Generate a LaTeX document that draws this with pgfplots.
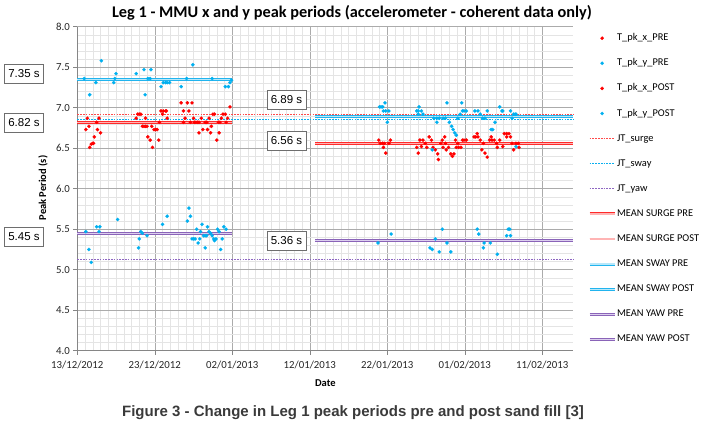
\documentclass[border=0pt]{standalone}
\usepackage{fontspec}
\setmainfont{Carlito}
\newfontfamily\arialfont{Liberation Sans}
\usepackage{pgfplots}
\pgfplotsset{compat=1.18}
\usepackage{pgfplotstable}

\definecolor{cred}{HTML}{FF0000}
\definecolor{cblue}{HTML}{00B0F0}
\definecolor{jtred}{HTML}{FF4A4A}
\definecolor{jtblue}{HTML}{0AAFEF}
\definecolor{jtpurple}{HTML}{8E66C2}
\definecolor{mred}{HTML}{FF2A2A}
\definecolor{mredin}{HTML}{FFB4B4}
\definecolor{mblue}{HTML}{22B4EE}
\definecolor{mbluein}{HTML}{B8E8FA}
\definecolor{mpurple}{HTML}{8A64B8}
\definecolor{mpurplein}{HTML}{DCCFEE}
\definecolor{majgrid}{HTML}{ABABAB}
\definecolor{mingrid}{HTML}{E4E4E4}
\definecolor{axgray}{HTML}{868686}
\definecolor{capgray}{HTML}{3A3A3A}
\definecolor{boxgray}{HTML}{6E6E6E}

% x = days since 13/12/2012
\pgfplotstableread{
x y
1.1 6.73
1.3 6.87
1.5 6.77
1.6 6.51
1.8 6.55
2.0 6.56
2.1 6.56
2.2 6.64
2.5 6.82
2.6 6.73
2.8 6.87
3.0 6.69
7.6 6.87
7.8 6.92
8.0 6.92
8.2 6.92
8.4 6.77
8.6 6.77
8.8 6.87
8.8 6.77
9.0 6.77
9.1 6.64
9.4 6.60
9.6 6.77
9.7 6.51
9.9 6.73
10.1 6.73
10.3 6.73
10.5 6.60
10.6 6.82
10.8 6.96
11.0 6.92
11.1 6.96
11.4 6.96
11.5 6.96
11.6 6.87
13.4 7.06
13.7 6.96
13.7 6.82
13.9 6.87
14.2 7.06
14.4 6.96
14.6 6.82
14.8 7.06
15.0 6.87
15.1 6.82
15.3 6.82
15.5 6.82
15.7 6.82
15.7 6.69
16.0 6.87
16.2 6.73
16.5 6.82
16.7 6.82
16.8 6.73
17.0 6.87
17.2 6.69
17.3 6.77
17.5 6.92
17.7 6.92
18.0 6.60
18.2 6.82
18.3 6.69
18.4 6.82
18.6 6.87
18.8 6.92
19.1 6.92
19.2 6.82
19.4 6.87
19.7 7.01
}\xpre

\pgfplotstableread{
x y
0.9 7.36
1.6 7.16
2.4 7.31
3.1 7.58
4.7 7.31
4.85 7.36
5.0 7.42
7.6 7.42
8.6 7.47
8.75 7.16
9.1 7.36
9.4 7.36
9.5 7.47
10.8 7.26
11.1 7.31
11.4 7.31
11.6 7.31
11.9 7.31
13.4 7.26
14.1 7.36
14.9 7.53
17.4 7.36
19.1 7.26
19.5 7.26
19.7 7.31
19.9 7.34
1.1 5.47
1.5 5.25
1.8 5.09
2.5 5.53
2.9 5.53
2.8 5.47
5.2 5.62
7.9 5.27
8.0 5.38
8.2 5.47
8.4 5.45
9.0 5.42
11.0 5.56
11.6 5.66
14.2 5.60
14.4 5.76
14.6 5.66
14.8 5.38
15.0 5.38
15.2 5.38
15.4 5.50
15.6 5.33
15.8 5.38
15.9 5.47
16.1 5.56
16.3 5.42
16.5 5.42
16.7 5.42
16.5 5.27
16.8 5.53
17.0 5.47
17.2 5.45
17.4 5.42
17.6 5.38
17.7 5.36
17.9 5.38
18.1 5.50
18.3 5.47
18.5 5.25
18.7 5.38
18.9 5.53
19.2 5.50
}\ypre

\pgfplotstableread{
x y
38.9 6.60
39.1 6.56
39.4 6.56
39.6 6.56
39.5 6.51
39.8 6.44
40.2 6.56
40.4 6.60
43.8 6.51
44.0 6.44
44.2 6.60
44.6 6.60
44.4 6.52
44.9 6.56
45.1 6.51
45.4 6.64
45.7 6.60
45.9 6.51
46.2 6.48
46.5 6.43
46.6 6.36
46.9 6.56
47.1 6.60
47.2 6.51
47.5 6.56
47.4 6.64
47.6 6.48
47.9 6.51
48.2 6.43
48.4 6.40
48.6 6.43
48.8 6.60
48.9 6.51
49.2 6.51
49.5 6.51
49.1 6.56
49.7 6.60
49.9 6.60
50.2 6.60
51.2 6.64
51.4 6.64
51.7 6.64
51.6 6.68
52.0 6.60
52.2 6.48
52.4 6.56
52.6 6.44
52.9 6.39
53.2 6.60
53.5 6.60
53.8 6.60
53.4 6.64
54.1 6.56
54.2 6.51
54.5 6.60
54.9 6.52
55.1 6.68
55.4 6.68
55.7 6.68
55.4 6.64
55.9 6.64
56.1 6.56
56.3 6.48
56.6 6.56
56.9 6.56
57.0 6.51
}\xpost

\pgfplotstableread{
x y
39.0 7.01
39.2 7.01
39.4 7.01
39.7 7.06
39.5 6.96
39.8 6.96
40.2 6.96
40.0 6.82
44.1 7.01
43.8 6.96
44.0 6.96
44.4 6.96
44.0 6.92
44.6 6.92
46.0 6.87
46.4 6.87
46.7 6.87
47.2 6.87
47.5 6.87
46.4 6.82
47.7 7.06
48.0 6.82
48.3 6.77
48.5 6.73
48.7 6.69
48.9 6.66
49.1 6.87
49.4 6.92
49.6 7.06
49.7 6.96
49.9 6.96
50.2 6.96
45.8 6.48
51.3 6.96
51.7 6.96
52.0 6.92
52.3 6.87
52.6 6.87
52.9 6.96
53.9 6.82
54.5 7.01
54.8 6.96
54.9 6.96
55.9 6.96
56.1 6.87
56.3 6.92
56.5 6.92
56.6 6.92
53.4 6.73
53.6 6.73
56.6 6.52
38.8 5.33
40.5 5.44
45.5 5.27
45.8 5.25
46.2 5.38
46.7 5.22
47.1 5.50
47.7 5.33
48.2 5.22
51.6 5.50
51.8 5.44
52.4 5.27
52.5 5.33
53.3 5.33
54.2 5.19
55.4 5.42
55.6 5.50
55.8 5.50
55.9 5.42
}\ypost

\pgfplotsset{
  pts/.style={only marks, color=#1, mark=*, mark size=1.75pt, mark options={draw=#1, fill=#1, line width=0.1pt, solid}},
  jt/.style={color=#1, line width=1pt, dash pattern=on 1.6pt off 1.2pt},
  meanout/.style={draw=#1, line width=2.9pt,
    legend image code/.code={%
      \draw[##1] (0pt,0pt) -- (25pt,0pt);
      \draw[draw=#1in, line width=1.4pt] (0pt,0pt) -- (25pt,0pt);}},
  meanin/.style={draw=#1, line width=1.4pt, forget plot},
}

\begin{document}
\begin{tikzpicture}[x=1pt,y=1pt]
\path[use as bounding box] (0,0) rectangle (702,429);
\begin{axis}[
  at={(77.3pt,78.3pt)}, anchor=south west,
  scale only axis, width=496pt, height=324pt,
  xmin=0, xmax=64, ymin=4, ymax=8,
  axis lines*=left,
  xtick={0,10,...,60},
  xticklabels={13/12/2012,23/12/2012,02/01/2013,12/01/2013,22/01/2013,01/02/2013,11/02/2013},
  ytick={4,4.5,...,8},
  minor x tick num=9, minor y tick num=4,
  grid=both,
  major grid style={draw=majgrid, line width=0.6pt},
  minor grid style={draw=mingrid, line width=0.5pt},
  axis line style={draw=axgray, line width=0.6pt},
  tick align=outside, major tick length=4pt, minor tick length=0pt,
  major tick style={draw=axgray, line width=0.6pt},
  /pgf/number format/fixed, /pgf/number format/fixed zerofill,
  /pgf/number format/precision=1, /pgf/number format/assume math mode=true,
  tick label style={font=\fontsize{10.8}{12}\selectfont, text=black!85},
  xticklabel style={yshift=-3pt},
  legend image code/.code={\draw[mark repeat=2,mark phase=2,#1] plot coordinates {(0pt,0pt) (12.5pt,0pt) (25pt,0pt)};},
  legend style={at={(rel axis cs:1,1)}, anchor=north west, xshift=14.7pt, yshift=-5.8pt,
    draw=none, fill=none, inner sep=0pt, row sep=14.1pt,
    font=\fontsize{10.4}{12}\selectfont,
    nodes={inner sep=1pt, text height=7pt, text depth=2pt}},
  legend cell align=left,
  clip=false,
]
\addplot[pts=cred] table {\xpre};
\addlegendentry{T\_pk\_x\_PRE}
\addplot[pts=cblue] table {\ypre};
\addlegendentry{T\_pk\_y\_PRE}
\addplot[pts=cred] table {\xpost};
\addlegendentry{T\_pk\_x\_POST}
\addplot[pts=cblue] table {\ypost};
\addlegendentry{T\_pk\_y\_POST}
\addplot[jt=jtred] coordinates {(0,6.91) (64,6.91)};
\addlegendentry{JT\_surge}
\addplot[jt=jtblue] coordinates {(0,6.86) (64,6.86)};
\addlegendentry{JT\_sway}
\addplot[jt=jtpurple] coordinates {(0,5.13) (64,5.13)};
\addlegendentry{JT\_yaw}
\addplot[meanout=mred] coordinates {(0,6.82) (20,6.82)};
\addlegendentry{MEAN SURGE PRE}
\addplot[meanin=mredin] coordinates {(0,6.82) (20,6.82)};
\addplot[meanout=mred] coordinates {(30.7,6.56) (64,6.56)};
\addlegendentry{MEAN SURGE POST}
\addplot[meanin=mredin] coordinates {(30.7,6.56) (64,6.56)};
\addplot[meanout=mblue] coordinates {(0,7.35) (20,7.35)};
\addlegendentry{MEAN SWAY PRE}
\addplot[meanin=mbluein] coordinates {(0,7.35) (20,7.35)};
\addplot[meanout=mblue] coordinates {(30.7,6.89) (64,6.89)};
\addlegendentry{MEAN SWAY POST}
\addplot[meanin=mbluein] coordinates {(30.7,6.89) (64,6.89)};
\addplot[meanout=mpurple] coordinates {(0,5.45) (20,5.45)};
\addlegendentry{MEAN YAW PRE}
\addplot[meanin=mpurplein] coordinates {(0,5.45) (20,5.45)};
\addplot[meanout=mpurple] coordinates {(30.7,5.36) (64,5.36)};
\addlegendentry{MEAN YAW POST}
\addplot[meanin=mpurplein] coordinates {(30.7,5.36) (64,5.36)};
\end{axis}

\node[font=\bfseries\fontsize{16.3}{18}\selectfont] at (352,416) {Leg 1 - MMU x and y peak periods (accelerometer - coherent data only)};
\node[font=\bfseries\fontsize{10.5}{12}\selectfont, rotate=90] at (43,241) {Peak Period (s)};
\node[font=\bfseries\fontsize{10.5}{12}\selectfont] at (325.3,46) {Date};
\node[font=\arialfont\bfseries\fontsize{15}{17}\selectfont, text=capgray] at (353,16) {Figure 3 - Change in Leg 1 peak periods pre and post sand fill [3]};

\tikzset{vbox/.style={draw=boxgray, line width=0.8pt, fill=white, minimum width=39pt, minimum height=19pt, inner sep=0pt, font=\arialfont\fontsize{11.5}{13}\selectfont}}
\node[vbox] at (24,355) {7.35 s};
\node[vbox] at (24,306) {6.82 s};
\node[vbox] at (24,192.5) {5.45 s};
\node[vbox] at (286.5,329.5) {6.89 s};
\node[vbox] at (286.5,288) {6.56 s};
\node[vbox] at (286.5,188.5) {5.36 s};
\end{tikzpicture}
\end{document}
